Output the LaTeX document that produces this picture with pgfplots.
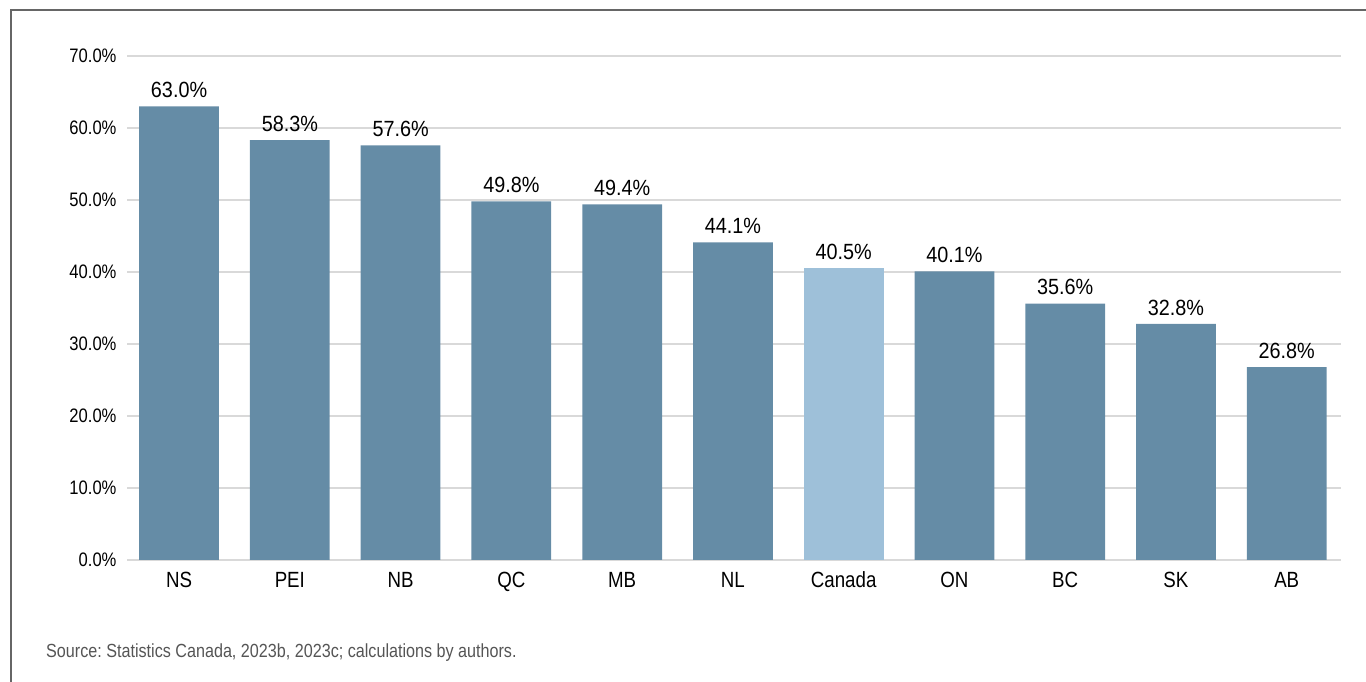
\documentclass[border=0pt]{standalone}
\usepackage{fontspec}
\setmainfont{Liberation Sans}[FakeStretch=0.85]
\newfontfamily\labelfont{Liberation Sans}[FakeStretch=0.9]
\usepackage{pgfplots}
\pgfplotsset{compat=1.18}
\definecolor{barblue}{HTML}{658CA6}
\definecolor{barlight}{HTML}{9EC0D9}
\definecolor{gridgray}{HTML}{D9D9D9}
\definecolor{framegray}{HTML}{666666}
\definecolor{srcgray}{HTML}{555555}
\frenchspacing
\begin{document}
\begin{tikzpicture}[x=1pt,y=1pt]
\path[use as bounding box] (0,0) rectangle (1366,682);
\draw[framegray, line width=1.5pt] (11,0) -- (11,672) -- (1366,672);
\begin{axis}[
  at={(127pt,122pt)}, anchor=south west,
  scale only axis, width=1214pt, height=504pt,
  xmin=-0.47, xmax=10.49, ymin=0, ymax=70,
  ybar, bar width=0.72, bar shift=0pt,
  axis line style={draw=none},
  tick style={draw=none},
  ymajorgrids, grid style={gridgray, line width=2pt},
  xtick={0,...,10},
  xticklabels={NS,PEI,NB,QC,MB,NL,Canada,ON,BC,SK,AB},
  xticklabel style={font=\fontsize{22}{24}\selectfont, text height=16pt, yshift=-4pt},
  ytick={0,10,...,70},
  yticklabel={\pgfmathprintnumber[fixed,fixed zerofill,precision=1]{\tick}\%},
  yticklabel style={font=\fontsize{19.5}{22}\selectfont, xshift=-7pt},
  /pgf/number format/assume math mode=true,
  nodes near coords={\pgfmathprintnumber[fixed,fixed zerofill,precision=1]{\pgfplotspointmeta}\%},
  nodes near coords style={font=\labelfont\fontsize{22}{24}\selectfont, black, yshift=5pt},
]
\addplot[fill=barblue, draw=none] coordinates {
  (0,63.0) (1,58.3) (2,57.6) (3,49.8) (4,49.4) (5,44.1)
  (7,40.1) (8,35.6) (9,32.8) (10,26.8)
};
\addplot[fill=barlight, draw=none] coordinates {(6,40.5)};
\end{axis}
\node[anchor=base west, inner sep=0pt, text=srcgray, font=\fontsize{19}{22}\selectfont] at (46,24) {Source: Statistics Canada, 2023b, 2023c; calculations by authors.};
\end{tikzpicture}
\end{document}
